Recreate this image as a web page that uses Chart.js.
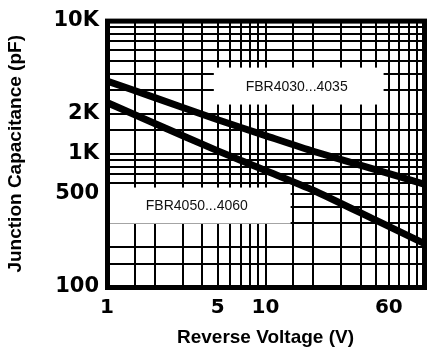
<!DOCTYPE html>
<html><head><meta charset="utf-8">
<script src="https://cdn.jsdelivr.net/npm/chart.js@4"></script>
<style>html,body{margin:0;padding:0;background:#fff}#wrap{width:433px;height:352px}</style>
</head><body><div id="wrap"><canvas id="c" width="433" height="352"></canvas></div>
<script>
const voltage = [1, 2, 5, 10, 20, 50, 100];
const capFBR4030 = [3520, 2640, 1800, 1370, 1045, 757, 593];
const capFBR4050 = [2425, 1690, 1052, 749, 533, 316, 213];
const seriesNames = ['FBR4030...4035', 'FBR4050...4060'];
const xGridValues = [1,1.5,2,3,4,5,6,7,8,9,10,15,20,30,40,50,60,70,80,90,100];
const xTickLabels = {1:'1', 5:'5', 10:'10', 60:'60'};
const yGridValues = [100,150,200,300,400,500,600,700,800,900,1000,1500,2000,3000,4000,5000,6000,7000,8000,9000,10000];
const yTickLabels = {100:'100', 500:'500', 1000:'1K', 2000:'2K', 10000:'10K'};

// label boxes placed in data coordinates (V, pF)
const labelBoxes = [
  {text: seriesNames[0], x0: 4.72, x1: 55.6, y0: 2343, y1: 4436},
  {text: seriesNames[1], x0: 1, x1: 14.4, y0: 299, y1: 558}
];

const boxesPlugin = {
  id: 'boxes',
  beforeDatasetsDraw(chart) {
    const {ctx, scales: {x, y}} = chart;
    ctx.save();
    labelBoxes.forEach(b => {
      const l = x.getPixelForValue(b.x0), r = x.getPixelForValue(b.x1);
      const t = y.getPixelForValue(b.y1), btm = y.getPixelForValue(b.y0);
      ctx.fillStyle = '#fff';
      ctx.fillRect(l, t, r - l, btm - t);
      ctx.fillStyle = '#111';
      ctx.font = "14px 'Liberation Sans', Arial, sans-serif";
      ctx.textAlign = 'center';
      ctx.textBaseline = 'middle';
      ctx.fillText(b.text, (l + r) / 2 - 2, (t + btm) / 2 + 1);
    });
    ctx.restore();
  }
};
const framePlugin = {
  id: 'frame',
  afterDatasetsDraw(chart) {
    const {ctx, chartArea: a} = chart;
    ctx.save();
    ctx.strokeStyle = '#000';
    ctx.lineWidth = 5;
    ctx.strokeRect(a.left + 0.5, a.top + 0.5, a.right - a.left, a.bottom - a.top);
    ctx.restore();
  }
};

const tickFont = {family: 'DejaVu Sans', weight: 'bold', size: 20};
const titleFont = {family: 'Liberation Sans', weight: 'bold', size: 19};

new Chart(document.getElementById('c'), {
  type: 'line',
  data: {
    datasets: [
      {label: seriesNames[0], data: voltage.map((v, i) => ({x: v, y: capFBR4030[i]})),
       borderColor: '#000', borderWidth: 7, pointRadius: 0, tension: 0.2, clip: 0},
      {label: seriesNames[1], data: voltage.map((v, i) => ({x: v, y: capFBR4050[i]})),
       borderColor: '#000', borderWidth: 7, pointRadius: 0, tension: 0.2, clip: 0}
    ]
  },
  options: {
    responsive: false,
    animation: false,
    devicePixelRatio: 1,
    layout: {padding: {top: 14, right: 3, left: 0, bottom: 0}},
    plugins: {legend: {display: false}, tooltip: {enabled: false}},
    scales: {
      x: {
        type: 'logarithmic', min: 1, max: 100, position: 'bottom',
        afterBuildTicks: s => { s.ticks = xGridValues.map(v => ({value: v})); },
        afterFit: s => { s.height = 65; },
        ticks: {autoSkip: false, maxRotation: 0, minRotation: 0,
                callback: v => xTickLabels[v] ?? '', font: tickFont, color: '#000', padding: 9},
        grid: {color: '#000', lineWidth: 2, drawTicks: false},
        border: {display: false},
        title: {display: true, text: 'Reverse Voltage (V)', font: titleFont, color: '#000',
                padding: {top: 0, bottom: 3}}
      },
      y: {
        type: 'logarithmic', min: 100, max: 10000, position: 'left',
        afterBuildTicks: s => { s.ticks = yGridValues.map(v => ({value: v})); },
        afterFit: s => { s.width = 107; },
        ticks: {autoSkip: false, callback: v => yTickLabels[v] ?? '',
                font: {family: 'DejaVu Sans', weight: 'bold', size: 21}, color: '#000', padding: 8},
        grid: {color: '#000', lineWidth: 2, drawTicks: false},
        border: {display: false},
        title: {display: true, text: 'Junction Capacitance (pF)', font: titleFont, color: '#000',
                padding: {top: 4, bottom: 0}}
      }
    }
  },
  plugins: [boxesPlugin, framePlugin]
});
</script></body></html>
